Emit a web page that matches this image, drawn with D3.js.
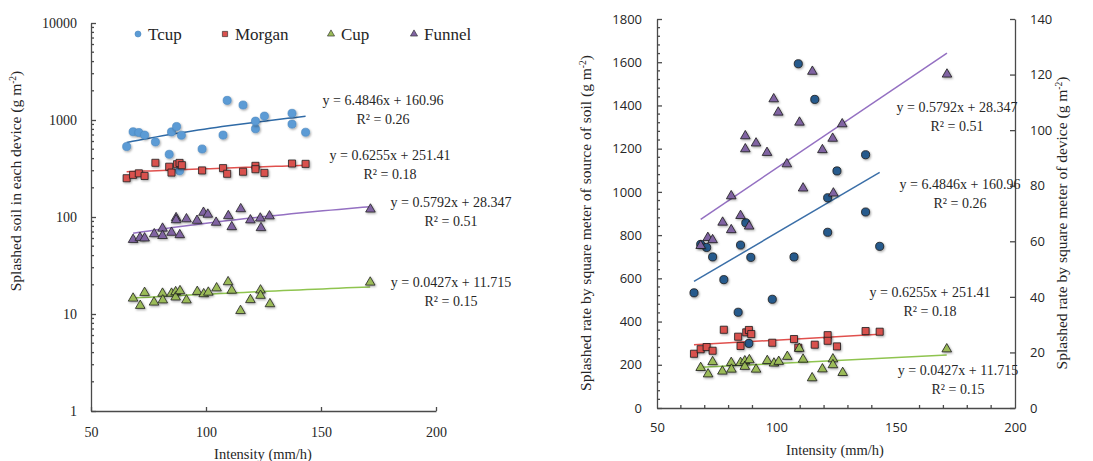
<!DOCTYPE html>
<html>
<head>
<meta charset="utf-8">
<script src="https://cdn.jsdelivr.net/npm/d3@7"></script>
<style>
  body { margin: 0; background: #fff; }
  svg text { fill: #262626; }
  .axis path, .axis line { stroke: #4a4a4a; stroke-width: 1.3; }
</style>
</head>
<body>
<svg id="chart" width="1093" height="461"></svg>
<script>
// ─── Data ────────────────────────────────────────────────
const tcupX   = [65.5, 68.3, 70.8, 73.3, 78, 84, 85, 87.2, 88.5, 89.3, 98.3, 107.4, 109.2, 116.1, 121.5, 121.5, 125.4, 137.4, 137.4, 143.3];
const tcupY   = [533, 757, 743, 699, 594, 443, 754, 857, 299, 697, 503, 699, 1593, 1428, 813, 973, 1097, 1172, 907, 748];
const morganX = [65.5, 68.3, 70.8, 73.3, 78, 84, 85, 87.4, 88.5, 89.5, 98.3, 107.4, 109.2, 116.1, 121.5, 121.5, 125.4, 137.4, 143.3];
const morganY = [251, 272, 282, 265, 362, 330, 287, 350, 361, 342, 302, 319, 279, 293, 337, 311, 285, 356, 353];
const cupX    = [68.3, 71.4, 73.3, 77.4, 81.1, 81.2, 85, 86.8, 86.8, 88.7, 91.5, 96.2, 99, 101, 104.6, 109.6, 111.2, 115, 119.3, 123.7, 123.7, 127.8, 171.4];
const cupY    = [14.5, 12.2, 16.6, 13.2, 16.3, 13.9, 16.3, 16.9, 14.9, 17.3, 13.9, 17.0, 16.1, 16.7, 18.5, 21.4, 17.5, 10.8, 14.0, 17.6, 15.5, 12.7, 21.2];
const funnelX = [68.3, 71.3, 73.3, 77.5, 81.1, 81.1, 85, 87, 87, 88.6, 91.5, 96.1, 98.9, 100.8, 104.4, 109.7, 111.2, 115.1, 119.3, 123.6, 123.9, 127.6, 171.5];
const funnelY = [58.4, 61.3, 60.5, 66.8, 76.3, 64.1, 69.2, 97.9, 93.2, 65.4, 95.3, 91.9, 111.2, 106.4, 87.8, 102.8, 79.1, 121.1, 92.9, 97.0, 77.3, 102.2, 120.1];

const seriesNames = ['Tcup', 'Morgan', 'Cup', 'Funnel'];
const slopes      = [6.4846, 0.6255, 0.0427, 0.5792];
const intercepts  = [160.96, 251.41, 11.715, 28.347];
const rSquared    = ['0.26', '0.18', '0.15', '0.51'];

const xTicks      = [50, 100, 150, 200];
const logTicks    = [1, 10, 100, 1000, 10000];
const srcTicks    = d3.range(0, 1801, 200);
const deviceTicks = d3.range(0, 141, 20);

const SERIF = '"Liberation Serif", "Times New Roman", serif';
const SANS = '"Open Sans", "Liberation Sans", sans-serif';

// ─── Setup ───────────────────────────────────────────────
const svg = d3.select('#chart');
const defs = svg.append('defs');
defs.append('filter').attr('id', 'shadow').attr('x', '-50%').attr('y', '-50%').attr('width', '200%').attr('height', '200%')
  .append('feDropShadow').attr('dx', 1).attr('dy', 1.2).attr('stdDeviation', 0.8)
  .attr('flood-color', '#000').attr('flood-opacity', 0.35);

const series = [
  { xs: tcupX,   ys: tcupY,   sym: d3.symbolCircle,   size: 52, fillL: '#5b9bd5', strokeL: '#4a86bf', fillR: '#275a8c', line: '#2f6aa6', lineR: '#3b6fa8', right: false },
  { xs: morganX, ys: morganY, sym: d3.symbolSquare,   size: 50, fillL: '#d9514e', strokeL: '#222',    fillR: '#d9514e', line: '#e0504d', lineR: '#e0504d', right: false },
  { xs: cupX,    ys: cupY,    sym: d3.symbolTriangle, size: 40, fillL: '#9bbb59', strokeL: '#222',    fillR: '#9bbb59', line: '#8fc44f', lineR: '#8fc44f', right: true },
  { xs: funnelX, ys: funnelY, sym: d3.symbolTriangle, size: 40, fillL: '#8064a2', strokeL: '#222',    fillR: '#8064a2', line: '#9470c2', lineR: '#9470c2', right: true },
];
series.forEach((s, i) => {
  s.name = seriesNames[i];
  s.slope = slopes[i];
  s.icpt = intercepts[i];
  s.r2 = rSquared[i];
  s.pts = s.xs.map((x, j) => ({ x, y: s.ys[j] }));
});

function superTitle(g, main, x, y) {
  const t = g.append('text').attr('text-anchor', 'middle')
    .style('font-family', SERIF).style('font-size', '15.5px')
    .attr('transform', `translate(${x},${y}) rotate(-90)`);
  t.append('tspan').text(main + ' (g m');
  t.append('tspan').style('font-size', '9.5px').attr('dy', -5).text('-2');
  t.append('tspan').attr('dy', 5).text(')');
  return t;
}

function eqLabel(g, s, cx, by) {
  g.append('text').attr('x', cx).attr('y', by).attr('text-anchor', 'middle')
    .style('font-family', SERIF).style('font-size', '14px')
    .text(`y = ${s.slope}x + ${s.icpt}`);
  g.append('text').attr('x', cx).attr('y', by + 19).attr('text-anchor', 'middle')
    .style('font-family', SERIF).style('font-size', '14px')
    .text(`R² = ${s.r2}`);
}

function tickFont(family, size) {
  return g => g.selectAll('text').style('font-family', family).style('font-size', size + 'px').attr('fill', '#262626');
}

// ─── Left chart: log scale ───────────────────────────────
const xL = d3.scaleLinear().domain([50, 200]).range([91, 436]);
const yL = d3.scaleLog().domain([1, 10000]).range([411, 23]);
const gL = svg.append('g');

gL.append('g').attr('class', 'axis').attr('transform', `translate(${xL(50)},0)`)
  .call(d3.axisLeft(yL).tickValues(logTicks).tickFormat(d3.format('d')).tickSize(-5).tickSizeOuter(0).tickPadding(14))
  .call(tickFont(SERIF, 14));
const minorLog = [];
[1, 10, 100, 1000].forEach(d => d3.range(2, 10).forEach(m => minorLog.push(d * m)));
gL.append('g').attr('class', 'axis').selectAll('line').data(minorLog).join('line')
  .attr('x1', xL(50)).attr('x2', xL(50) + 3).attr('y1', d => yL(d)).attr('y2', d => yL(d));

gL.append('g').attr('class', 'axis').attr('transform', `translate(0,${yL(1)})`)
  .call(d3.axisBottom(xL).tickValues(xTicks).tickSize(-4).tickSizeOuter(0).tickPadding(16))
  .call(tickFont(SERIF, 14));

gL.append('text').attr('x', 263).attr('y', 459).attr('text-anchor', 'middle')
  .style('font-family', SERIF).style('font-size', '14.5px').text('Intensity (mm/h)');
superTitle(gL, 'Splashed soil in each device', 21, 181);

series.forEach(s => {
  const [x0, x1] = d3.extent(s.xs);
  const xs = d3.range(0, 31).map(k => x0 + (x1 - x0) * k / 30);
  gL.append('path').attr('fill', 'none').attr('stroke', s.line).attr('stroke-width', 1.5)
    .attr('d', d3.line().x(d => xL(d)).y(d => yL(s.slope * d + s.icpt))(xs));
});
series.forEach(s => {
  gL.append('g').selectAll('path').data(s.pts).join('path')
    .attr('transform', d => `translate(${xL(d.x)},${yL(d.y)})`)
    .attr('d', d3.symbol(s.sym, s.size))
    .attr('fill', s.fillL).attr('stroke', s.strokeL).attr('stroke-width', s.name === 'Tcup' ? 0.6 : 0.8)
    .attr('filter', 'url(#shadow)');
});

eqLabel(gL, series[0], 383, 105);
eqLabel(gL, series[1], 390, 160);
eqLabel(gL, series[3], 451, 207);
eqLabel(gL, series[2], 451, 287);

// legend
const legendX = [138, 225, 331, 414];
series.forEach((s, i) => {
  gL.append('path').attr('transform', `translate(${legendX[i]},34)`)
    .attr('d', d3.symbol(s.sym, s.size * 0.55))
    .attr('fill', s.fillL).attr('stroke', s.strokeL).attr('stroke-width', 0.6);
  gL.append('text').attr('x', legendX[i] + 10).attr('y', 40)
    .style('font-family', SERIF).style('font-size', '17px').text(s.name);
});

// ─── Right chart: dual linear axes ───────────────────────
const xR  = d3.scaleLinear().domain([50, 200]).range([657, 1015]);
const yR1 = d3.scaleLinear().domain([0, 1800]).range([408, 19]);
const yR2 = d3.scaleLinear().domain([0, 140]).range([408, 19]);
const gR = svg.append('g');

gR.append('g').attr('class', 'axis').attr('transform', `translate(${xR(50)},0)`)
  .call(d3.axisLeft(yR1).tickValues(srcTicks).tickFormat(d3.format('d')).tickSize(-5).tickSizeOuter(0).tickPadding(15))
  .call(tickFont(SANS, 13));
gR.append('g').attr('class', 'axis').selectAll('line')
  .data(d3.range(0, 1801, 40).filter(d => d % 200)).join('line')
  .attr('x1', xR(50)).attr('x2', xR(50) + 3).attr('y1', d => yR1(d)).attr('y2', d => yR1(d));

gR.append('g').attr('class', 'axis').attr('transform', `translate(${xR(200)},0)`)
  .call(d3.axisRight(yR2).tickValues(deviceTicks).tickFormat(d3.format('d')).tickSize(-5).tickSizeOuter(0).tickPadding(15))
  .call(tickFont(SANS, 13));

gR.append('g').attr('class', 'axis').attr('transform', `translate(0,${yR1(0)})`)
  .call(d3.axisBottom(xR).tickValues(xTicks).tickSize(0).tickSizeOuter(0).tickPadding(15))
  .call(tickFont(SANS, 13));
gR.append('g').attr('class', 'axis').selectAll('line')
  .data(d3.range(60, 200, 10).filter(d => d % 50)).join('line')
  .attr('x1', d => xR(d)).attr('x2', d => xR(d)).attr('y1', yR1(0)).attr('y2', yR1(0) - 3);

gR.append('text').attr('x', 835).attr('y', 455).attr('text-anchor', 'middle')
  .style('font-family', SERIF).style('font-size', '14.5px').text('Intensity (mm/h)');
superTitle(gR, 'Splashed rate by square meter of source of soil', 591, 223);
superTitle(gR, 'Splashed rate by square meter of device', 1067, 223);

series.forEach(s => {
  const yS = s.right ? yR2 : yR1;
  const [x0, x1] = d3.extent(s.xs);
  gR.append('path').attr('fill', 'none').attr('stroke', s.lineR).attr('stroke-width', 1.5)
    .attr('d', d3.line().x(d => xR(d)).y(d => yS(s.slope * d + s.icpt))([x0, x1]));
});
series.forEach(s => {
  const yS = s.right ? yR2 : yR1;
  gR.append('g').selectAll('path').data(s.pts).join('path')
    .attr('transform', d => `translate(${xR(d.x)},${yS(d.y)})`)
    .attr('d', d3.symbol(s.sym, s.size))
    .attr('fill', s.fillR).attr('stroke', '#1a1a1a').attr('stroke-width', 0.8)
    .attr('filter', 'url(#shadow)');
});

eqLabel(gR, series[3], 957, 112);
eqLabel(gR, series[0], 960, 189);
eqLabel(gR, series[1], 930, 297);
eqLabel(gR, series[2], 958, 375);
</script>
</body>
</html>
